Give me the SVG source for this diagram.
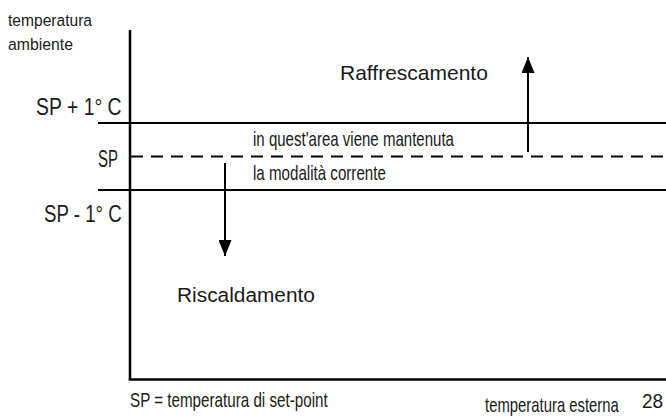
<svg xmlns="http://www.w3.org/2000/svg" width="666" height="416" viewBox="0 0 666 416">
<defs>
<style>
.t{font-family:"Liberation Sans",Arial,sans-serif;fill:#1a1a1a}
.s{font-size:17px}
.m{font-size:20px}
.l{font-size:21px}
.xl{font-size:23px}
.ln{stroke:#000;stroke-width:2;fill:none}
.ax{stroke:#000;stroke-width:2.5;fill:none}
</style>
<marker id="ah" viewBox="0 0 16 13" refX="16" refY="6.5" markerWidth="16" markerHeight="13" markerUnits="userSpaceOnUse" orient="auto">
<path d="M0,0 L16,6.5 L0,13 Z" fill="#000"/>
</marker>
</defs>
<rect width="666" height="416" fill="#fff"/>
<g id="axes">
<line class="ax" x1="130" y1="30" x2="130" y2="380"/>
<line class="ax" x1="128.75" y1="379.5" x2="666" y2="379.5"/>
</g>
<g id="levels">
<line class="ln" x1="98" y1="123" x2="666" y2="123"/>
<line class="ln" x1="131" y1="156.5" x2="666" y2="156.5" stroke-dasharray="12 8"/>
<line class="ln" x1="98" y1="190" x2="666" y2="190"/>
</g>
<g id="connectors">
<line class="ln" x1="528" y1="152" x2="528" y2="57" marker-end="url(#ah)"/>
<line class="ln" x1="225" y1="163" x2="225" y2="256" marker-end="url(#ah)"/>
</g>
<g id="labels">
<text class="t s" transform="translate(8,26) scale(0.917,1)">temperatura</text>
<text class="t s" transform="translate(8,50) scale(0.93,1)">ambiente</text>
<text class="t xl" transform="translate(36,115) scale(0.844,1)">SP + 1° C</text>
<text class="t xl" transform="translate(98,167) scale(0.652,1)">SP</text>
<text class="t xl" transform="translate(44,222) scale(0.812,1)">SP - 1° C</text>
</g>
<g id="cooling">
<text class="t l" x="340" y="80">Raffrescamento</text>
</g>
<g id="band">
<text class="t m" transform="translate(253,146) scale(0.752,1)">in quest'area viene mantenuta</text>
<text class="t m" transform="translate(253,180) scale(0.757,1)">la modalità corrente</text>
</g>
<g id="heating">
<text class="t l" transform="translate(177,302) scale(0.994,1)">Riscaldamento</text>
</g>
<g id="footer">
<text class="t m" transform="translate(130,407) scale(0.76,1)">SP = temperatura di set-point</text>
<text class="t m" transform="translate(485,412) scale(0.744,1)">temperatura esterna</text>
<text class="t m" transform="translate(642,408) scale(0.95,1)">28</text>
</g>
</svg>
